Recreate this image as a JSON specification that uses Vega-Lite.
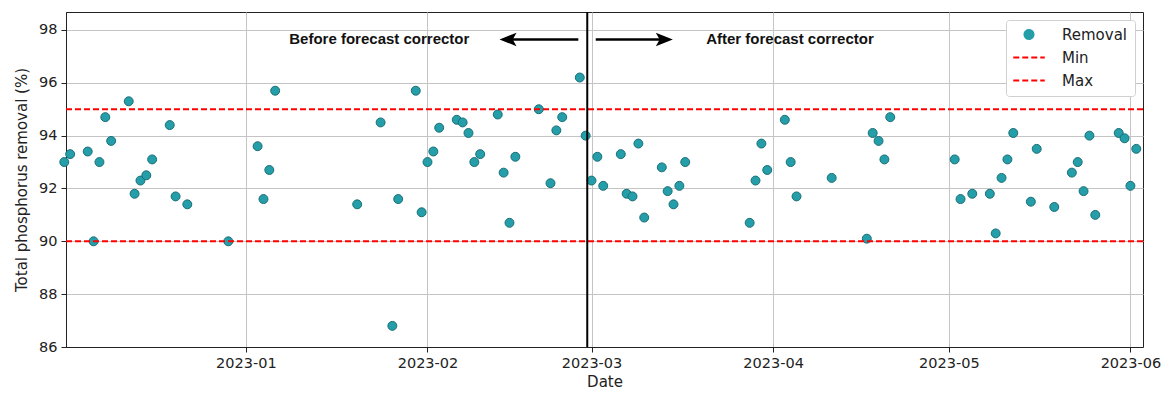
{
  "$schema": "https://vega.github.io/schema/vega-lite/v6.json",
  "width": 1077,
  "height": 335,
  "autosize": {"type": "none"},
  "padding": {"left": 66, "top": 12, "right": 26, "bottom": 47},
  "background": "white",
  "config": {
    "view": {"stroke": "#222222", "strokeWidth": 1},
    "axis": {
      "labelFont": "DejaVu Sans",
      "labelFontSize": 14.5,
      "labelColor": "#222222",
      "titleFont": "DejaVu Sans",
      "titleFontSize": 15,
      "titleFontWeight": "normal",
      "titleColor": "#222222",
      "tickColor": "#222222",
      "tickSize": 5,
      "labelPadding": 4,
      "domainColor": "#222222",
      "gridColor": "#c4c4c4",
      "gridWidth": 1
    },
    "legend": {
      "orient": "top-right",
      "offset": 8,
      "padding": 7,
      "fillColor": "white",
      "strokeColor": "#d0d0d0",
      "cornerRadius": 3,
      "labelFont": "DejaVu Sans",
      "labelFontSize": 15,
      "labelColor": "#222222",
      "labelOffset": 34,
      "rowPadding": 7,
      "symbolSize": 81,
      "symbolStrokeWidth": 2
    }
  },
  "datasets": {
    "removal": [
      {"date": "2022-12-01", "value": 93.0},
      {"date": "2022-12-02", "value": 93.3},
      {"date": "2022-12-05", "value": 93.4},
      {"date": "2022-12-06", "value": 90.0},
      {"date": "2022-12-07", "value": 93.0},
      {"date": "2022-12-08", "value": 94.7},
      {"date": "2022-12-09", "value": 93.8},
      {"date": "2022-12-12", "value": 95.3},
      {"date": "2022-12-13", "value": 91.8},
      {"date": "2022-12-14", "value": 92.3},
      {"date": "2022-12-15", "value": 92.5},
      {"date": "2022-12-16", "value": 93.1},
      {"date": "2022-12-19", "value": 94.4},
      {"date": "2022-12-20", "value": 91.7},
      {"date": "2022-12-22", "value": 91.4},
      {"date": "2022-12-29", "value": 90.0},
      {"date": "2023-01-03", "value": 93.6},
      {"date": "2023-01-04", "value": 91.6},
      {"date": "2023-01-05", "value": 92.7},
      {"date": "2023-01-06", "value": 95.7},
      {"date": "2023-01-20", "value": 91.4},
      {"date": "2023-01-24", "value": 94.5},
      {"date": "2023-01-26", "value": 86.8},
      {"date": "2023-01-27", "value": 91.6},
      {"date": "2023-01-30", "value": 95.7},
      {"date": "2023-01-31", "value": 91.1},
      {"date": "2023-02-01", "value": 93.0},
      {"date": "2023-02-02", "value": 93.4},
      {"date": "2023-02-03", "value": 94.3},
      {"date": "2023-02-06", "value": 94.6},
      {"date": "2023-02-07", "value": 94.5},
      {"date": "2023-02-08", "value": 94.1},
      {"date": "2023-02-09", "value": 93.0},
      {"date": "2023-02-10", "value": 93.3},
      {"date": "2023-02-13", "value": 94.8},
      {"date": "2023-02-14", "value": 92.6},
      {"date": "2023-02-15", "value": 90.7},
      {"date": "2023-02-16", "value": 93.2},
      {"date": "2023-02-20", "value": 95.0},
      {"date": "2023-02-22", "value": 92.2},
      {"date": "2023-02-23", "value": 94.2},
      {"date": "2023-02-24", "value": 94.7},
      {"date": "2023-02-27", "value": 96.2},
      {"date": "2023-02-28", "value": 94.0},
      {"date": "2023-03-01", "value": 92.3},
      {"date": "2023-03-02", "value": 93.2},
      {"date": "2023-03-03", "value": 92.1},
      {"date": "2023-03-06", "value": 93.3},
      {"date": "2023-03-07", "value": 91.8},
      {"date": "2023-03-08", "value": 91.7},
      {"date": "2023-03-09", "value": 93.7},
      {"date": "2023-03-10", "value": 90.9},
      {"date": "2023-03-13", "value": 92.8},
      {"date": "2023-03-14", "value": 91.9},
      {"date": "2023-03-15", "value": 91.4},
      {"date": "2023-03-16", "value": 92.1},
      {"date": "2023-03-17", "value": 93.0},
      {"date": "2023-03-28", "value": 90.7},
      {"date": "2023-03-29", "value": 92.3},
      {"date": "2023-03-30", "value": 93.7},
      {"date": "2023-03-31", "value": 92.7},
      {"date": "2023-04-03", "value": 94.6},
      {"date": "2023-04-04", "value": 93.0},
      {"date": "2023-04-05", "value": 91.7},
      {"date": "2023-04-11", "value": 92.4},
      {"date": "2023-04-17", "value": 90.1},
      {"date": "2023-04-18", "value": 94.1},
      {"date": "2023-04-19", "value": 93.8},
      {"date": "2023-04-20", "value": 93.1},
      {"date": "2023-04-21", "value": 94.7},
      {"date": "2023-05-02", "value": 93.1},
      {"date": "2023-05-03", "value": 91.6},
      {"date": "2023-05-05", "value": 91.8},
      {"date": "2023-05-08", "value": 91.8},
      {"date": "2023-05-09", "value": 90.3},
      {"date": "2023-05-10", "value": 92.4},
      {"date": "2023-05-11", "value": 93.1},
      {"date": "2023-05-12", "value": 94.1},
      {"date": "2023-05-15", "value": 91.5},
      {"date": "2023-05-16", "value": 93.5},
      {"date": "2023-05-19", "value": 91.3},
      {"date": "2023-05-22", "value": 92.6},
      {"date": "2023-05-23", "value": 93.0},
      {"date": "2023-05-24", "value": 91.9},
      {"date": "2023-05-25", "value": 94.0},
      {"date": "2023-05-26", "value": 91.0},
      {"date": "2023-05-30", "value": 94.1},
      {"date": "2023-05-31", "value": 93.9},
      {"date": "2023-06-01", "value": 92.1},
      {"date": "2023-06-02", "value": 93.5}
    ],
    "limits": [
      {"series": "Min", "value": 90},
      {"series": "Max", "value": 95}
    ],
    "divider": [
      {"date": "2023-02-28T06:36:00Z"}
    ],
    "notes": [
      {"date": "2023-01-23T18:36:00Z", "value": 97.65, "text": "Before forecast corrector"},
      {"date": "2023-04-03T21:00:00Z", "value": 97.65, "text": "After forecast corrector"}
    ],
    "shafts": [
      {"date": "2023-02-26T18:00:00Z", "date2": "2023-02-14T18:00:00Z", "value": 97.64},
      {"date": "2023-03-01T17:20:00Z", "date2": "2023-03-13T10:20:00Z", "value": 97.64}
    ],
    "heads": [
      {"dir": "left", "date": "2023-02-14T18:00:00Z", "value": 97.64},
      {"dir": "right", "date": "2023-03-13T10:20:00Z", "value": 97.64}
    ]
  },
  "layer": [
    {
      "data": {"name": "removal", "format": {"parse": {"date": "utc:'%Y-%m-%d'"}}},
      "mark": {"type": "point", "filled": true, "size": 80, "opacity": 1, "stroke": "#1b6e77", "strokeWidth": 1},
      "encoding": {
        "x": {"field": "date", "type": "temporal", "title": "Date",
              "scale": {"type": "utc", "domain": [1669878000000, 1685763000000], "nice": false},
              "axis": {"values": [1672531200000, 1675209600000, 1677628800000, 1680307200000, 1682899200000, 1685577600000],
                       "labelExpr": "utcFormat(datum.value, '%Y-%m')", "grid": true, "titlePadding": 5}},
        "y": {"field": "value", "type": "quantitative", "title": "Total phosphorus removal (%)",
              "scale": {"domain": [86, 98.68], "nice": false, "zero": false},
              "axis": {"values": [86, 88, 90, 92, 94, 96, 98], "grid": true, "titlePadding": 9}},
        "color": {"datum": "Removal", "type": "nominal", "title": null,
                  "scale": {"domain": ["Removal", "Min", "Max"], "range": ["#249ea8", "#ff0000", "#ff0000"]},
                  "legend": {"title": null,
                    "encode": {"symbols": {"update": {
                      "x": {"value": 16},
                      "shape": {"signal": "datum.value === 'Removal' ? 'circle' : 'M -3.5 0 L 3.5 0'"},
                      "size": {"value": 81},
                      "strokeDash": {"signal": "datum.value === 'Removal' ? [1, 0] : [6, 3]"},
                      "stroke": {"signal": "datum.value === 'Removal' ? 'transparent' : '#ff0000'"},
                      "fill": {"signal": "datum.value === 'Removal' ? '#249ea8' : 'transparent'"},
                      "strokeWidth": {"value": 2},
                      "opacity": {"value": 1}
                    }}}}}
      }
    },
    {
      "data": {"name": "limits"},
      "mark": {"type": "rule", "strokeWidth": 2, "strokeDash": [6, 3]},
      "encoding": {
        "y": {"field": "value", "type": "quantitative", "title": "Total phosphorus removal (%)",
              "scale": {"domain": [86, 98.68], "nice": false, "zero": false}},
        "color": {"field": "series", "type": "nominal", "title": null,
                  "legend": {"title": null,
                    "encode": {"symbols": {"update": {
                      "x": {"value": 16},
                      "shape": {"signal": "datum.value === 'Removal' ? 'circle' : 'M -3.5 0 L 3.5 0'"},
                      "size": {"value": 81},
                      "strokeDash": {"signal": "datum.value === 'Removal' ? [1, 0] : [6, 3]"},
                      "stroke": {"signal": "datum.value === 'Removal' ? 'transparent' : '#ff0000'"},
                      "fill": {"signal": "datum.value === 'Removal' ? '#249ea8' : 'transparent'"},
                      "strokeWidth": {"value": 2},
                      "opacity": {"value": 1}
                    }}}}}
      }
    },
    {
      "data": {"name": "divider"},
      "mark": {"type": "rule", "color": "#000000", "strokeWidth": 2},
      "encoding": {
        "x": {"field": "date", "type": "temporal", "title": "Date"}
      }
    },
    {
      "data": {"name": "shafts"},
      "mark": {"type": "rule", "color": "#000000", "strokeWidth": 2.5},
      "encoding": {
        "x": {"field": "date", "type": "temporal", "title": "Date"},
        "x2": {"field": "date2"},
        "y": {"field": "value", "type": "quantitative", "title": "Total phosphorus removal (%)",
              "scale": {"domain": [86, 98.68], "nice": false, "zero": false}}
      }
    },
    {
      "data": {"name": "heads"},
      "transform": [{"filter": "datum.dir === 'left'"}],
      "mark": {"type": "point", "filled": true, "opacity": 1, "color": "#000000", "size": 289,
               "shape": "M -1 0 L 1 -0.8 L 0.55 0 L 1 0.8 Z"},
      "encoding": {
        "x": {"field": "date", "type": "temporal", "title": "Date"},
        "y": {"field": "value", "type": "quantitative", "title": "Total phosphorus removal (%)",
              "scale": {"domain": [86, 98.68], "nice": false, "zero": false}}
      }
    },
    {
      "data": {"name": "heads"},
      "transform": [{"filter": "datum.dir === 'right'"}],
      "mark": {"type": "point", "filled": true, "opacity": 1, "color": "#000000", "size": 289,
               "shape": "M 1 0 L -1 -0.8 L -0.55 0 L -1 0.8 Z"},
      "encoding": {
        "x": {"field": "date", "type": "temporal", "title": "Date"},
        "y": {"field": "value", "type": "quantitative", "title": "Total phosphorus removal (%)",
              "scale": {"domain": [86, 98.68], "nice": false, "zero": false}}
      }
    },
    {
      "data": {"name": "notes"},
      "mark": {"type": "text", "font": "Liberation Sans", "fontWeight": "bold", "fontSize": 15,
               "color": "#111111", "align": "center", "baseline": "middle"},
      "encoding": {
        "x": {"field": "date", "type": "temporal", "title": "Date"},
        "y": {"field": "value", "type": "quantitative", "title": "Total phosphorus removal (%)",
              "scale": {"domain": [86, 98.68], "nice": false, "zero": false}},
        "text": {"field": "text"}
      }
    }
  ]
}
